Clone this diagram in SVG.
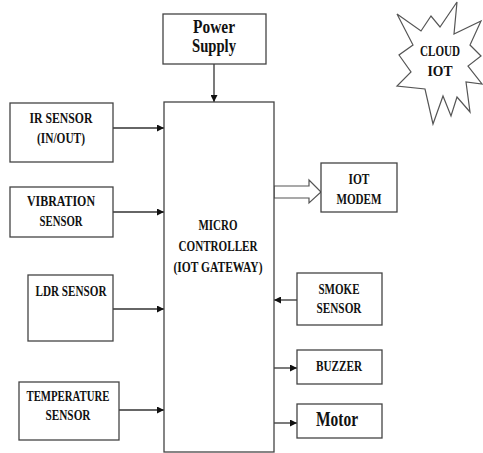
<svg xmlns="http://www.w3.org/2000/svg" width="483" height="453" viewBox="0 0 483 453">
<style>
.box{fill:#fff;stroke:#444;stroke-width:1.3}
text{font-family:'Liberation Serif','Times New Roman',serif;font-weight:700;font-size:14px;fill:#111;text-anchor:middle}
.big{font-size:18px}
.motor{font-size:21px}
.ln{stroke:#333;stroke-width:1.3;fill:none}
</style>
<defs>
<marker id="ah" markerUnits="userSpaceOnUse" markerWidth="7" markerHeight="7" refX="7" refY="3.5" orient="auto">
<path d="M0,0 L7,3.5 L0,7 z" fill="#111"/>
</marker>
</defs>
<rect width="483" height="453" fill="#fff"/>
<g id="connectors">
<line class="ln" x1="214" y1="64" x2="214" y2="102" marker-end="url(#ah)"/>
<line class="ln" x1="113" y1="128" x2="164" y2="128" marker-end="url(#ah)"/>
<line class="ln" x1="113" y1="212" x2="164" y2="212" marker-end="url(#ah)"/>
<line class="ln" x1="113" y1="309" x2="164" y2="309" marker-end="url(#ah)"/>
<line class="ln" x1="119" y1="410" x2="164" y2="410" marker-end="url(#ah)"/>
<polygon points="274,186 309,186 309,180 321,192 309,203 309,198 274,198" fill="#fff" stroke="#555" stroke-width="1.2"/>
<line class="ln" x1="297" y1="300" x2="274" y2="300" marker-end="url(#ah)"/>
<line class="ln" x1="274" y1="368" x2="297" y2="368" marker-end="url(#ah)"/>
<line class="ln" x1="274" y1="423" x2="297" y2="423" marker-end="url(#ah)"/>
</g>
<g id="power">
<rect class="box" x="163" y="14" width="103" height="50"/>
<text class="big" x="214" y="33" textLength="42" lengthAdjust="spacingAndGlyphs">Power</text>
<text class="big" x="214" y="52" textLength="44" lengthAdjust="spacingAndGlyphs">Supply</text>
</g>
<g id="cloud">
<polygon points="397,14 421,31 431,16 440,27 457,2 454,34 481,21 470,45 481,56 468,66 482,84 466,82 470,112 457,97 451,116 443,96 433,124 425,89 397,86 411,72 399,55 413,45" fill="#fff" stroke="#555" stroke-width="1.2"/>
<text x="440" y="56" textLength="40" lengthAdjust="spacingAndGlyphs">CLOUD</text>
<text x="440" y="76" textLength="25" lengthAdjust="spacingAndGlyphs">IOT</text>
</g>
<g id="ir">
<rect class="box" x="10" y="103" width="103" height="59"/>
<text x="61" y="123" textLength="63" lengthAdjust="spacingAndGlyphs">IR SENSOR</text>
<text x="61" y="143" textLength="48" lengthAdjust="spacingAndGlyphs">(IN/OUT)</text>
</g>
<g id="vibration">
<rect class="box" x="10" y="187" width="103" height="50"/>
<text x="61" y="206" textLength="68" lengthAdjust="spacingAndGlyphs">VIBRATION</text>
<text x="61" y="226" textLength="43" lengthAdjust="spacingAndGlyphs">SENSOR</text>
</g>
<g id="ldr">
<rect class="box" x="28" y="275" width="85" height="66"/>
<text x="71" y="296" textLength="71" lengthAdjust="spacingAndGlyphs">LDR SENSOR</text>
</g>
<g id="temperature">
<rect class="box" x="19" y="382" width="100" height="58"/>
<text x="68" y="401" textLength="83" lengthAdjust="spacingAndGlyphs">TEMPERATURE</text>
<text x="68" y="420" textLength="45" lengthAdjust="spacingAndGlyphs">SENSOR</text>
</g>
<g id="micro">
<rect class="box" x="164" y="102" width="110" height="350"/>
<text x="218" y="230" textLength="39" lengthAdjust="spacingAndGlyphs">MICRO</text>
<text x="218" y="251" textLength="79" lengthAdjust="spacingAndGlyphs">CONTROLLER</text>
<text x="218" y="272" textLength="89" lengthAdjust="spacingAndGlyphs">(IOT GATEWAY)</text>
</g>
<g id="modem">
<rect class="box" x="321" y="163" width="76" height="49"/>
<text x="359" y="184" textLength="21" lengthAdjust="spacingAndGlyphs">IOT</text>
<text x="359" y="204" textLength="45" lengthAdjust="spacingAndGlyphs">MODEM</text>
</g>
<g id="smoke">
<rect class="box" x="297" y="273" width="85" height="52"/>
<text x="339" y="294" textLength="41" lengthAdjust="spacingAndGlyphs">SMOKE</text>
<text x="339" y="313" textLength="45" lengthAdjust="spacingAndGlyphs">SENSOR</text>
</g>
<g id="buzzer">
<rect class="box" x="297" y="350" width="85" height="34"/>
<text x="339" y="371" textLength="46" lengthAdjust="spacingAndGlyphs">BUZZER</text>
</g>
<g id="motor">
<rect class="box" x="297" y="404" width="85" height="34"/>
<text class="motor" x="337" y="426" textLength="42" lengthAdjust="spacingAndGlyphs">Motor</text>
</g>
</svg>
